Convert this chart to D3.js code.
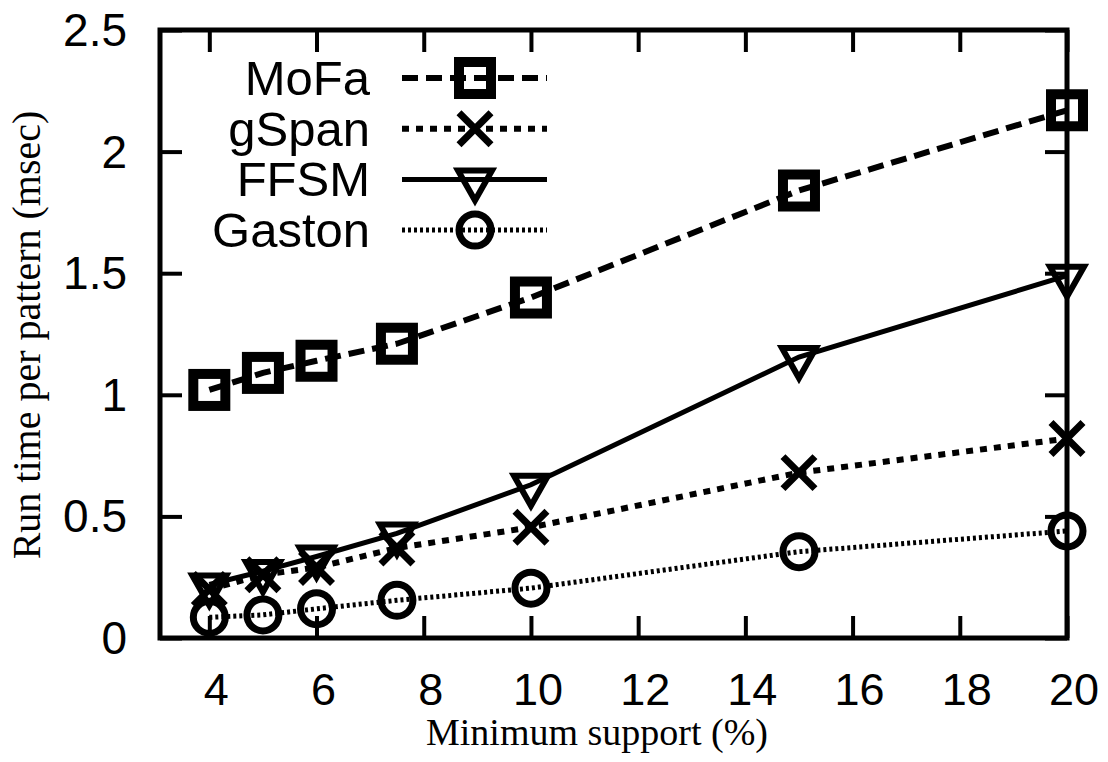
<!DOCTYPE html>
<html>
<head>
<meta charset="utf-8">
<script src="https://cdn.jsdelivr.net/npm/d3@7"></script>
<style>
  body { margin: 0; background: #fff; }
  .tick-label { font-family: "Liberation Sans", Arial, Helvetica, sans-serif; }
  .axis-label { font-family: "Liberation Serif", "Times New Roman", serif; }
</style>
</head>
<body>
<div id="chart-area"></div>
<script>
const WIDTH = 1108;
const HEIGHT = 762;

// data
const supports = [4, 5, 6, 7.5, 10, 15, 20];
const mofa   = [1.02, 1.09, 1.14, 1.21, 1.40, 1.84, 2.17];
const gspan  = [0.20, 0.26, 0.29, 0.37, 0.455, 0.68, 0.82];
const ffsm   = [0.22, 0.275, 0.335, 0.43, 0.63, 1.155, 1.49];
const gaston = [0.085, 0.095, 0.12, 0.155, 0.205, 0.355, 0.44];

const xTicks = [4, 6, 8, 10, 12, 14, 16, 18, 20];
const yTicks = [0, 0.5, 1, 1.5, 2, 2.5];

const seriesNames = ["MoFa", "gSpan", "FFSM", "Gaston"];

const svg = d3.select("#chart-area").append("svg")
  .attr("width", WIDTH)
  .attr("height", HEIGHT);

svg.append("rect").attr("width", WIDTH).attr("height", HEIGHT).attr("fill", "#fff");

const margin = {top: 30, right: 41, bottom: 124, left: 160};
const graphWidth = WIDTH - margin.left - margin.right;
const graphHeight = HEIGHT - margin.top - margin.bottom;

const graph = svg.append("g")
  .attr("transform", `translate(${margin.left}, ${margin.top})`);

// scales
const x = d3.scaleLinear().domain([3.08, 20]).range([0, graphWidth]);
const y = d3.scaleLinear().domain([0, 2.5]).range([graphHeight, 0]);

// axes: ticks point inward, mirrored on top and right
const tickLen = 22;
const xAxisBottom = d3.axisBottom(x).tickValues(xTicks).tickSize(-tickLen).tickFormat("");
const xAxisTop = d3.axisTop(x).tickValues(xTicks).tickSize(-tickLen).tickFormat("");
const yAxisLeft = d3.axisLeft(y).tickValues(yTicks).tickSize(-tickLen).tickFormat("");
const yAxisRight = d3.axisRight(y).tickValues(yTicks).tickSize(-tickLen).tickFormat("");

const styleAxis = g => {
  g.select(".domain").remove();
  g.selectAll(".tick line").attr("stroke", "#000").attr("stroke-width", 4);
};

graph.append("g").attr("transform", `translate(0, ${graphHeight})`).call(xAxisBottom).call(styleAxis);
graph.append("g").call(xAxisTop).call(styleAxis);
graph.append("g").call(yAxisLeft).call(styleAxis);
graph.append("g").attr("transform", `translate(${graphWidth}, 0)`).call(yAxisRight).call(styleAxis);

// frame
graph.append("rect")
  .attr("width", graphWidth)
  .attr("height", graphHeight)
  .attr("fill", "none")
  .attr("stroke", "#000")
  .attr("stroke-width", 5);

// tick labels
graph.selectAll(".x-tick-label").data(xTicks).enter().append("text")
  .attr("class", "tick-label")
  .attr("x", d => x(d) + 7)
  .attr("y", graphHeight + 67)
  .attr("font-size", "45px")
  .attr("text-anchor", "middle")
  .text(d => d);

graph.selectAll(".y-tick-label").data(yTicks).enter().append("text")
  .attr("class", "tick-label")
  .attr("x", -33)
  .attr("y", d => y(d) + 16)
  .attr("font-size", "46px")
  .attr("text-anchor", "end")
  .text(d => d);

// axis labels
svg.append("text")
  .attr("class", "axis-label")
  .attr("x", 597)
  .attr("y", 745)
  .attr("font-size", "38px")
  .attr("text-anchor", "middle")
  .text("Minimum support (%)");

svg.append("text")
  .attr("class", "axis-label")
  .attr("transform", "translate(40, 335) rotate(-90)")
  .attr("font-size", "40px")
  .attr("text-anchor", "middle")
  .text("Run time per pattern (msec)");

// markers
const drawMarker = (g, type, cx, cy) => {
  if (type === "square") {
    g.append("rect")
      .attr("x", cx - 16).attr("y", cy - 16)
      .attr("width", 32).attr("height", 32)
      .attr("fill", "none").attr("stroke", "#000").attr("stroke-width", 10);
  } else if (type === "cross") {
    g.append("path")
      .attr("d", `M${cx - 16},${cy - 16}L${cx + 16},${cy + 16}M${cx - 16},${cy + 16}L${cx + 16},${cy - 16}`)
      .attr("fill", "none").attr("stroke", "#000").attr("stroke-width", 7);
  } else if (type === "triangle") {
    g.append("path")
      .attr("d", `M${cx - 17},${cy - 9}L${cx + 17},${cy - 9}L${cx},${cy + 21}Z`)
      .attr("fill", "none").attr("stroke", "#000").attr("stroke-width", 6)
      .attr("stroke-linejoin", "miter");
  } else {
    g.append("circle")
      .attr("cx", cx).attr("cy", cy).attr("r", 16)
      .attr("fill", "none").attr("stroke", "#000").attr("stroke-width", 7);
  }
};

const series = [
  {name: seriesNames[0], values: mofa, marker: "square", width: 6, dash: "16,8"},
  {name: seriesNames[1], values: gspan, marker: "cross", width: 6, dash: "7,7"},
  {name: seriesNames[2], values: ffsm, marker: "triangle", width: 5, dash: null},
  {name: seriesNames[3], values: gaston, marker: "circle", width: 5, dash: "3,3"}
];

const line = d3.line()
  .x(d => x(d[0]))
  .y(d => y(d[1]));

series.forEach(s => {
  const pts = supports.map((v, i) => [v, s.values[i]]);
  graph.append("path")
    .datum(pts)
    .attr("d", line)
    .attr("fill", "none")
    .attr("stroke", "#000")
    .attr("stroke-width", s.width)
    .attr("stroke-dasharray", s.dash);
  const mg = graph.append("g");
  pts.forEach(p => drawMarker(mg, s.marker, x(p[0]), y(p[1])));
});

// legend
const legend = svg.append("g");
series.forEach((s, i) => {
  const ly = 78 + i * 50.7;
  legend.append("text")
    .attr("class", "tick-label")
    .attr("x", 370)
    .attr("y", ly + 17)
    .attr("font-size", "49px")
    .attr("text-anchor", "end")
    .text(s.name);
  legend.append("line")
    .attr("x1", 402).attr("x2", 547)
    .attr("y1", ly).attr("y2", ly)
    .attr("stroke", "#000")
    .attr("stroke-width", s.width)
    .attr("stroke-dasharray", s.dash);
  drawMarker(legend, s.marker, 475, ly);
});
</script>
</body>
</html>
